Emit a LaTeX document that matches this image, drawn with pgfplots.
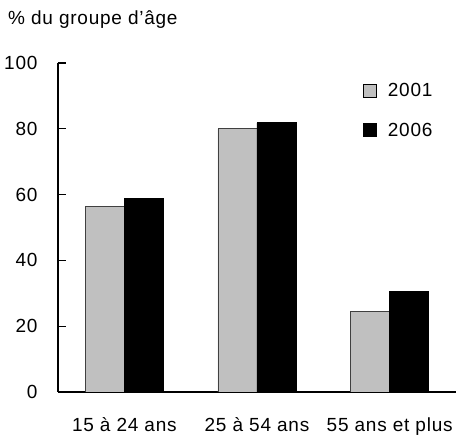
\documentclass[border=0pt]{standalone}
\usepackage{fontspec}
\setmainfont{Liberation Sans}[LetterSpace=4]
\usepackage{pgfplots}
\pgfplotsset{compat=1.18}
\definecolor{barg}{HTML}{C0C0C0}
\begin{document}
\fontsize{19}{22}\selectfont
\begin{tikzpicture}
\useasboundingbox (-58pt,-46pt) rectangle (398pt,392pt);
\begin{axis}[
  at={(0pt,0pt)}, anchor=south west,
  scale only axis, width=398pt, height=329pt,
  xmin=-0.5, xmax=2.5, ymin=0, ymax=100,
  axis x line=bottom, axis y line=left,
  axis line style={line width=1.2pt, -},
  ybar=0pt, bar width=39pt,
  xtick=data, xticklabels={15 à 24 ans, 25 à 54 ans, 55 ans et plus},
  x tick style={draw=none},
  ytick={0,20,40,60,80,100},
  y tick style={line width=1.2pt, black},
  tick align=inside, major tick length=8pt,
  /pgf/number format/assume math mode=true,
  every tick label/.append style={font=\fontsize{19}{22}\selectfont},
  yticklabel style={anchor=east, xshift=-14pt},
  xticklabel style={yshift=-19pt},
  legend style={draw=none, fill=none, at={(rel axis cs:0.766,0.944)}, anchor=north west,
    inner sep=0pt, row sep=19pt, font=\fontsize{19}{22}\selectfont},
  legend cell align=left,
  legend image code/.code={\draw[#1,draw=black,line width=0.8pt] (0pt,-6pt) rectangle (13pt,7pt); \path (22pt,0pt);},
]
\addplot[fill=barg, draw=black!75, line width=0.8pt] coordinates {(0,56.3) (1,80.0) (2,24.6)};
\addplot[fill=black, draw=black, line width=0.8pt] coordinates {(0,58.8) (1,81.8) (2,30.5)};
\legend{2001,2006}
\end{axis}
\node[anchor=west, inner sep=0pt] at (-50pt,372pt) {\% du groupe d’âge};
\end{tikzpicture}
\end{document}
